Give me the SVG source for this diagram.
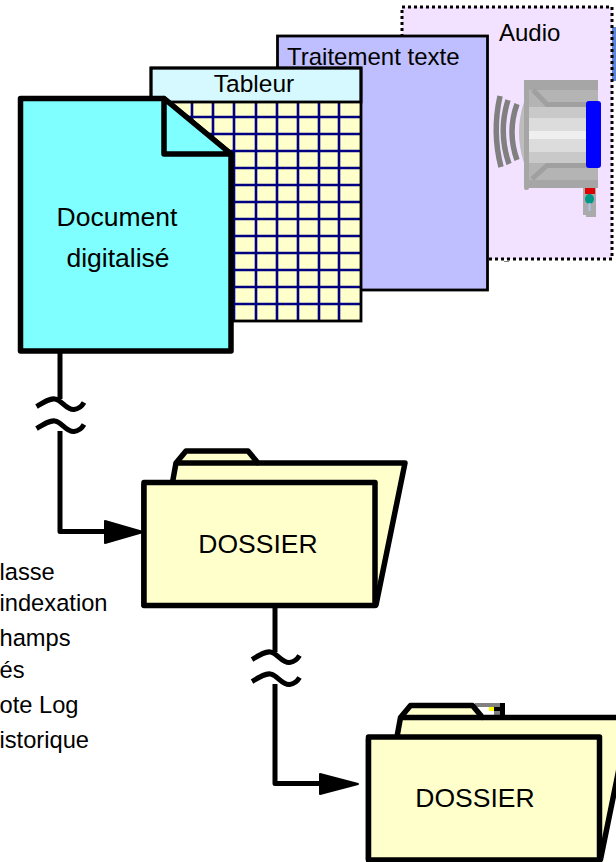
<svg xmlns="http://www.w3.org/2000/svg" width="616" height="862" viewBox="0 0 616 862">
<style>
text{font-family:"Liberation Sans",Arial,sans-serif;fill:#000}
.o{stroke:#000;stroke-linejoin:round;stroke-linecap:butt}
.y{fill:#ffffcc}
.c{fill:none;stroke:#000;stroke-width:5;stroke-linejoin:round}
.g{stroke:#000080;stroke-width:2.6;fill:none}
.w{fill:none;stroke:#808080;stroke-width:5.5}
.l{font-size:23.7px}
.a{fill:#000;stroke:#000;stroke-width:2;stroke-linejoin:round}
</style>
<defs>
<g id="folder">
<path class="o y" stroke-width="5.5" d="M28 36 L32 14 L42 2 L104 2 L114 14 L261 14 L232 156 L0 156 L0 36 Z"/>
<path class="o" fill="none" stroke-width="5.5" d="M32 14 L114 14"/>
<rect class="o y" stroke-width="5.5" x="0" y="33.5" width="231" height="123"/>
</g>
<path id="wave" class="c" d="M36.500 406.500 C44 402 50 398 55 399 C62 400 66 410 74 409.500 C78 409 82 406 84 402.500"/>
</defs>
<rect width="616" height="862" fill="#fff"/>
<g id="audio">
<rect x="612" y="27" width="4" height="54" fill="#5b86d8"/>
<rect x="402" y="7" width="210" height="252" fill="#f2e2ff" stroke="#000" stroke-width="3" stroke-dasharray="3 3"/>
<rect x="504" y="261" width="5" height="1" fill="#888"/>
<text x="499" y="41" font-size="24">Audio</text>
<path class="w" d="M500 96 Q492 132 501 167"/>
<path class="w" d="M508 100 Q498 132 509 164"/>
<path class="w" d="M517 104 Q507 132 517 160"/>
<path d="M524 102 Q514 132 524 163Z" fill="#bdbdbd"/>
<rect x="524" y="80" width="74" height="108" fill="#a6a6a6"/>
<rect x="524" y="185" width="5" height="5" rx="2" fill="#a6a6a6"/>
<path d="M529 90 L598 90 L598 180 L529 180 Z" fill="#b4b4b4"/>
<rect x="529" y="107" width="69" height="56" fill="#c9c9c9"/>
<rect x="529" y="118" width="69" height="34" fill="#dcdcdc"/>
<rect x="529" y="131" width="69" height="8" fill="#efefef"/>
<path d="M533 90 L547 104.500 L598 104.500 M532 179 L547 165.500 L598 165.500" fill="none" stroke="#a0a0a0" stroke-width="5"/>
<rect x="586" y="101" width="15" height="67" rx="3" fill="#0000ff"/>
<rect x="583" y="188" width="13" height="27" fill="#aaa"/>
<rect x="586" y="215" width="10" height="2" fill="#aaa"/>
<rect x="585" y="188" width="10" height="6" fill="#e00000"/>
<ellipse cx="589.500" cy="199" rx="4.500" ry="5" fill="#009688"/>
<rect x="588.500" y="203" width="2" height="8" fill="#a9c4e8"/>
</g>
<g id="texte">
<rect x="277.500" y="36" width="210" height="254" fill="#bfbfff" stroke="#000" stroke-width="2.800"/>
<text x="287" y="65" font-size="24">Traitement texte</text>
</g>
<g id="tableur">
<rect x="151" y="102" width="210" height="219" fill="#ffffcc"/>
<path class="g" d="M151 117H361M151 134H361M151 151H361M151 168H361M151 185H361M151 202H361M151 219H361M151 236H361M151 253H361M151 270H361M151 287H361M151 304H361M192 102V321M213 102V321M234 102V321M256 102V321M277 102V321M298 102V321M319 102V321M339 102V321"/>
<rect x="151" y="68" width="210" height="34" fill="#d5f9ff" stroke="#000" stroke-width="2.800"/>
<rect x="151" y="68" width="210" height="253" fill="none" stroke="#000" stroke-width="2.800"/>
<text x="254" y="92" font-size="24.500" text-anchor="middle">Tableur</text>
</g>
<g id="document">
<path class="o" fill="#7fffff" stroke-width="5.500" d="M20.500 98.500 L164 98.500 L231 154 L231 351 L20.500 351 Z"/>
<path class="o" fill="#7fffff" stroke-width="5.500" d="M164 98.500 L231 154 L164 154 Z"/>
<text x="117" y="226" font-size="26.500" text-anchor="middle">Document</text>
<text x="118" y="267" font-size="26.500" text-anchor="middle">digitalisé</text>
</g>
<g id="connectors">
<path class="c" d="M60 352 V399"/>
<path class="c" d="M60 431 V531.500 H106"/>
<path class="a" d="M105 521 L143 532 L105 543 Z"/>
<use href="#wave"/>
<use href="#wave" y="22"/>
<path class="c" d="M275 606 V652"/>
<path class="c" d="M275 684 V783.500 H320"/>
<path class="a" d="M320 774 L358 784 L320 794 Z"/>
<use href="#wave" x="215.500" y="253"/>
<use href="#wave" x="215.500" y="275"/>
</g>
<g id="dossier1">
<use href="#folder" x="144" y="449"/>
<text x="258" y="553" font-size="26.500" text-anchor="middle">DOSSIER</text>
</g>
<g id="dossier2">
<rect x="475" y="703" width="30" height="14" fill="#808080"/>
<rect x="477" y="707" width="17" height="10" fill="#fff"/>
<rect x="489" y="707" width="5" height="4" fill="#ffff00"/>
<rect x="494" y="707" width="6" height="4" fill="#000"/>
<rect x="500" y="703" width="5" height="14" fill="#000"/>
<use href="#folder" x="368.500" y="703.500"/>
<text x="475" y="807" font-size="26.500" text-anchor="middle">DOSSIER</text>
</g>
<g id="liste">
<text class="l" x="-0.500" y="580">lasse</text>
<text class="l" x="-0.500" y="611">indexation</text>
<text class="l" x="-0.500" y="646">hamps</text>
<text class="l" x="-0.500" y="678">és</text>
<text class="l" x="-0.500" y="713">ote Log</text>
<text class="l" x="-0.500" y="748">istorique</text>
</g>
</svg>
